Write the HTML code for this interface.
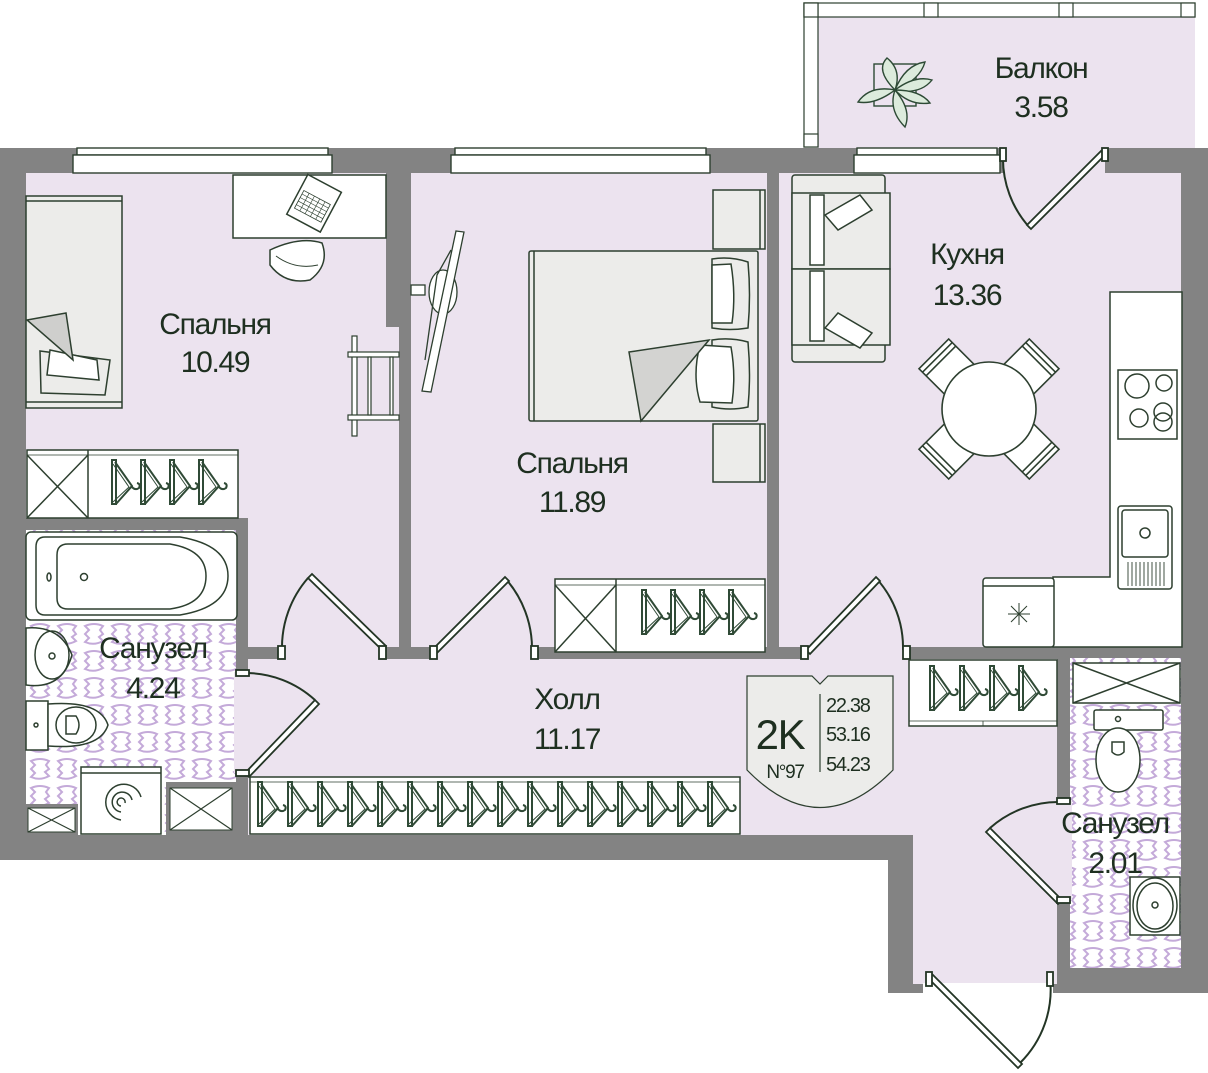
<!DOCTYPE html>
<html><head><meta charset="utf-8"><style>
html,body{margin:0;padding:0;background:#fff;}
svg{display:block;}
.t{font-family:"Liberation Sans",sans-serif;fill:#1e2f20;letter-spacing:-1.3px;}
</style></head><body>
<svg width="1208" height="1073" viewBox="0 0 1208 1073" xmlns="http://www.w3.org/2000/svg">
<defs>
<pattern id="tile" width="27" height="27" patternUnits="userSpaceOnUse">
<rect width="27" height="27" fill="#fff"/>
<path d="M4,5 Q13,1 22,5 L19,9 L22,13 L18,16 L22,20 Q13,25 4,21 L8,17 L4,13 L8,9 Z" fill="none" stroke="#c4aad9" stroke-width="2"/>
</pattern>
<g id="hg" fill="none" stroke="#2f4a36" stroke-width="2">
<path d="M0,0 L4,0 L4,44 L0,44 Z"/>
<path d="M3,2 L20,26 L4,44"/>
<path d="M1,4 L17,27 L1,42" stroke-width="1"/>
<path d="M19,26 Q23,31 27,28 Q29,24 25,23"/>
</g>
<g id="chair" stroke="#2d3f2f" stroke-width="1.6" fill="#fff">
<rect x="28" y="-21" width="50" height="42"/>
<line x1="68" y1="-21" x2="68" y2="21"/><line x1="73" y1="-21" x2="73" y2="21"/>
</g>
</defs>

<!-- balcony -->
<rect x="818" y="17" width="377" height="131" fill="#ece3ef"/>
<rect x="804" y="3" width="391" height="14" fill="#fff" stroke="#2d3f2f" stroke-width="1.2"/>
<rect x="804" y="3" width="14" height="144" fill="#fff" stroke="#2d3f2f" stroke-width="1.2"/>
<rect x="804" y="3" width="14" height="14" fill="#fff" stroke="#2d3f2f" stroke-width="1.2"/>
<rect x="804" y="134" width="14" height="13" fill="#fff" stroke="#2d3f2f" stroke-width="1.2"/>
<rect x="924" y="3" width="14" height="14" fill="#fff" stroke="#2d3f2f" stroke-width="1.2"/>
<rect x="1059" y="3" width="14" height="14" fill="#fff" stroke="#2d3f2f" stroke-width="1.2"/>
<rect x="1181" y="3" width="14" height="14" fill="#fff" stroke="#2d3f2f" stroke-width="1.2"/>

<!-- walls base -->
<rect x="0" y="148" width="1208" height="712" fill="#838383"/>
<rect x="888" y="835" width="35" height="158" fill="#838383"/>
<rect x="1053" y="650" width="155" height="343" fill="#838383"/>

<!-- rooms -->
<rect x="26" y="173" width="360" height="345" fill="#ece3ef"/>
<rect x="386" y="327" width="13" height="191" fill="#ece3ef"/>
<rect x="248" y="517" width="151" height="130" fill="#ece3ef"/>
<rect x="411" y="173" width="356" height="474" fill="#ece3ef"/>
<rect x="779" y="173" width="402" height="474" fill="#ece3ef"/>
<rect x="26" y="530" width="210" height="305" fill="url(#tile)"/>
<rect x="248" y="659" width="809" height="176" fill="#ece3ef"/>
<rect x="913" y="659" width="144" height="325" fill="#ece3ef"/>
<rect x="1070" y="658" width="111" height="310" fill="url(#tile)"/>
<!-- door gaps -->
<rect x="280" y="645" width="102" height="16" fill="#ece3ef"/>
<rect x="432" y="645" width="104" height="16" fill="#ece3ef"/>
<rect x="803" y="645" width="102" height="16" fill="#ece3ef"/>
<rect x="234" y="672" width="16" height="101" fill="#ece3ef"/>
<rect x="1053" y="800" width="19" height="100" fill="#ece3ef"/>
<rect x="1003" y="146" width="102" height="29" fill="#ece3ef"/>
<rect x="923" y="968" width="130" height="30" fill="#fff"/>
<rect x="923" y="968" width="130" height="15" fill="#ece3ef"/>

<!-- windows -->
<g fill="#fff" stroke="#2d3f2f" stroke-width="1.4">
<rect x="77" y="148" width="251" height="7"/><rect x="73" y="155" width="259" height="18"/>
<rect x="455" y="148" width="251" height="7"/><rect x="451" y="155" width="259" height="18"/>
<rect x="857" y="148" width="140" height="7"/><rect x="854" y="155" width="146" height="18"/>
</g>

<!-- doors -->
<g fill="none" stroke="#233525" stroke-width="2">
<path d="M308,578 A106,106 0 0 0 282,650"/>
<path d="M505,578 A106,106 0 0 1 532,650"/>
<path d="M876,578 A103,103 0 0 1 903,650"/>
<path d="M315,700 A103,103 0 0 0 245,673"/>
<path d="M1030,228 A103,103 0 0 1 1003,156"/>
<path d="M990,828 A103,103 0 0 1 1060,802"/>
<path d="M1020,1063 A103,103 0 0 0 1050,978"/>
</g>
<g fill="#fff" stroke="#233525" stroke-width="1.8">
<polygon points="382,650 386,646 312,574 308,578"/>
<polygon points="432,650 436,654 509,581 505,577"/>
<polygon points="806,650 810,654 880,581 876,577"/>
<polygon points="245,773 249,777 319,704 315,700"/>
<polygon points="1105,155 1101,151 1027,225 1031,229"/>
<polygon points="1062,900 1058,904 986,832 990,828"/>
<polygon points="928,978 932,974 1022,1064 1018,1068"/>
<rect x="278" y="646" width="7" height="13"/><rect x="379" y="646" width="7" height="13"/>
<rect x="430" y="646" width="7" height="13"/><rect x="531" y="646" width="7" height="13"/>
<rect x="801" y="646" width="7" height="13"/><rect x="903" y="646" width="7" height="13"/>
<rect x="236" y="670" width="13" height="6"/><rect x="236" y="770" width="13" height="6"/>
<rect x="1057" y="798" width="13" height="6"/><rect x="1057" y="897" width="13" height="6"/>
<rect x="1000" y="148" width="6" height="13"/><rect x="1102" y="148" width="6" height="13"/>
<rect x="926" y="972" width="6" height="14"/><rect x="1047" y="972" width="6" height="14"/>
</g>

<!-- Bedroom1 furniture -->
<g stroke="#2d3f2f" stroke-width="1.5">
<rect x="26" y="196" width="96" height="212" fill="#ececea"/>
<line x1="26" y1="201" x2="122" y2="201"/><line x1="26" y1="402" x2="122" y2="402"/>
<path d="M40,351 L110,360 L105,395 L41,393 Z" fill="#ececea"/>
<path d="M50,350 L97,360 L99,380 L47,375 Z" fill="#fff"/>
<polygon points="27,320 66,313 73,360" fill="#cfcfcd"/>
<rect x="233" y="175" width="153" height="63" fill="#fff"/>
<g transform="rotate(28 312 205)"><rect x="294" y="180" width="38" height="45" fill="#fff"/><rect x="298" y="196" width="30" height="20" fill="#fff" stroke-width="0.8"/><path d="M298,200 H328 M298,204 H328 M298,208 H328 M298,212 H328 M304,196 V216 M310,196 V216 M316,196 V216 M322,196 V216" stroke-width="0.6"/></g>
<path d="M270,250 Q300,236 322,243 Q330,265 310,280 Q285,285 270,265 Z" fill="#fff"/>
<path d="M276,256 Q295,270 318,265" fill="none" stroke-width="1"/>
<rect x="27" y="450" width="211" height="68" fill="#fff"/>
<line x1="88" y1="450" x2="88" y2="518"/><line x1="27" y1="455" x2="238" y2="455" stroke-width="0.8"/>
<line x1="27" y1="455" x2="88" y2="518"/><line x1="88" y1="455" x2="27" y2="518"/>
<g fill="#fff" stroke-width="1.2"><rect x="352" y="336" width="5" height="100"/><rect x="348" y="352" width="51" height="5"/><rect x="348" y="415" width="51" height="5"/><rect x="368" y="357" width="3" height="58"/><rect x="390" y="357" width="3" height="58"/></g>
<g fill="#fff" stroke-width="1.3"><rect x="411" y="285" width="14" height="10"/><ellipse cx="443" cy="292" rx="14" ry="22"/><polygon points="456,231 464,232 431,392 422,391"/><path d="M451,250 L437,275 L425,360" fill="none"/></g>
</g>

<!-- Bath1 -->
<g stroke="#2d3f2f" stroke-width="1.5" fill="#fff">
<rect x="26" y="532" width="211" height="88" rx="5"/>
<path d="M45,537 H180 Q228,545 228,576 Q228,607 180,615 H45 Q36,615 36,605 V547 Q36,537 45,537 Z" fill="none"/>
<path d="M68,544 H170 Q206,550 206,576 Q206,604 170,609 H68 Q57,609 57,598 V555 Q57,544 68,544 Z" fill="none"/>
<ellipse cx="49" cy="577" rx="2" ry="4"/><circle cx="84" cy="577" r="3.5"/>
<path d="M26,628 Q60,625 72,655 Q62,690 26,685 Z"/>
<ellipse cx="52" cy="655" rx="17" ry="24" fill="none"/><circle cx="52" cy="656" r="3"/>
<rect x="26" y="701" width="22" height="49"/>
<path d="M48,704 Q100,700 108,725 Q100,750 48,746 Z"/>
<ellipse cx="76" cy="725" rx="20" ry="18" fill="none"/><path d="M66,716 H76 Q82,725 76,734 H66 Z" fill="none"/>
<circle cx="36" cy="725" r="2"/>
<rect x="81" y="767" width="80" height="67"/><line x1="81" y1="773" x2="161" y2="773"/>
<path d="M121,820 A18,18 0 1 1 141,797 M121,812 A10,10 0 1 1 132,800 M121,806 A4,4 0 1 1 125,803" fill="none"/>
</g>
<rect x="166" y="782" width="70" height="53" fill="#838383"/>
<rect x="170" y="788" width="62" height="42" fill="#fff" stroke="#2d3f2f" stroke-width="1"/>
<path d="M170,788 L232,830 M232,788 L170,830" stroke="#2d3f2f" stroke-width="1.2"/>
<rect x="26" y="804" width="52" height="31" fill="#838383"/>
<rect x="28" y="808" width="47" height="24" fill="#fff" stroke="#2d3f2f" stroke-width="1"/>
<path d="M28,808 L75,832 M75,808 L28,832" stroke="#2d3f2f" stroke-width="1.2"/>

<!-- Bedroom2 -->
<g stroke="#2d3f2f" stroke-width="1.5">
<rect x="713" y="190" width="52" height="59" fill="#ececea"/><rect x="713" y="424" width="52" height="58" fill="#ececea"/>
<line x1="760" y1="190" x2="760" y2="249"/><line x1="760" y1="424" x2="760" y2="482"/>
<rect x="529" y="251" width="229" height="170" fill="#ececea" rx="2"/>
<line x1="534" y1="251" x2="534" y2="421"/>
<path d="M712,259 Q730,256 748,262 Q751,295 748,328 Q730,331 712,328 Z" fill="#ececea"/>
<path d="M712,265 L731,264 Q736,295 732,323 L712,323 Z" fill="#fff"/>
<path d="M712,340 Q730,337 748,342 Q751,375 748,407 Q730,411 712,407 Z" fill="#ececea"/>
<path d="M700,345 L731,347 Q736,375 732,403 L700,402 Q692,375 700,345 Z" fill="#fff"/>
<polygon points="629,352 709,340 641,421" fill="#d3d3d1"/>
<rect x="555" y="579" width="210" height="73" fill="#fff"/>
<line x1="616" y1="579" x2="616" y2="652"/><line x1="555" y1="585" x2="765" y2="585" stroke-width="0.8"/>
<line x1="555" y1="585" x2="616" y2="652"/><line x1="616" y1="585" x2="555" y2="652"/>
</g>

<!-- Kitchen -->
<g stroke="#2d3f2f" stroke-width="1.5">
<rect x="792" y="175" width="93" height="187" fill="#ececea" rx="3"/>
<rect x="792" y="193" width="98" height="76" fill="#ececea"/><rect x="792" y="269" width="98" height="76" fill="#ececea"/>
<rect x="810" y="195" width="14" height="70" fill="#fff"/><rect x="810" y="271" width="14" height="70" fill="#fff"/>
<path d="M825,215 L860,195 L872,210 L838,230 Z" fill="#fff"/>
<path d="M825,328 L860,348 L872,333 L838,313 Z" fill="#fff"/>
<path d="M1110,292 H1182 V647 H1053 V577 H1110 Z" fill="#fff"/>
<rect x="1118" y="370" width="59" height="69" fill="#fff"/>
<circle cx="1137" cy="386" r="12" fill="none"/><circle cx="1164" cy="383" r="8" fill="none"/>
<circle cx="1139" cy="418" r="9" fill="none"/><circle cx="1163" cy="412" r="9" fill="none"/><circle cx="1163" cy="422" r="9" fill="none"/>
<rect x="1118" y="506" width="54" height="83" rx="3" fill="#fff"/><rect x="1122" y="510" width="46" height="47" rx="3" fill="none"/>
<circle cx="1145" cy="533" r="5" fill="none"/>
<path d="M1128,562 V586 M1132,562 V586 M1136,562 V586 M1140,562 V586 M1144,562 V586 M1148,562 V586 M1152,562 V586 M1156,562 V586 M1160,562 V586 M1164,562 V586" stroke-width="0.9"/>
<rect x="983" y="578" width="71" height="69" rx="3" fill="#fff"/><line x1="983" y1="586" x2="1054" y2="586"/>
<path d="M1019,603 V625 M1008,614 H1030 M1011,606 L1027,622 M1027,606 L1011,622" stroke-width="1"/>
</g>
<g transform="translate(989 409)">
<use href="#chair" transform="rotate(-135)"/><use href="#chair" transform="rotate(-45)"/>
<use href="#chair" transform="rotate(45)"/><use href="#chair" transform="rotate(135)"/>
<circle r="47" fill="#fff" stroke="#2d3f2f" stroke-width="1.6"/>
</g>

<!-- closets with hangers -->
<g stroke="#2d3f2f" stroke-width="1.5" fill="#fff">
<rect x="250" y="777" width="490" height="57"/><line x1="250" y1="782" x2="740" y2="782" stroke-width="0.8"/>
<rect x="909" y="660" width="148" height="66"/><line x1="909" y1="721" x2="1057" y2="721" stroke-width="0.8"/><line x1="983" y1="721" x2="983" y2="726" stroke-width="0.8"/>
<rect x="1073" y="663" width="107" height="40"/>
<path d="M1073,663 L1180,703 M1180,663 L1073,703"/>
<rect x="1094" y="710" width="69" height="20" rx="2"/>
<ellipse cx="1118" cy="760" rx="22" ry="32"/><path d="M1112,742 H1124 V752 Q1118,758 1112,752 Z" fill="none"/><circle cx="1118" cy="719" r="2.5"/>
<rect x="1130" y="877" width="50" height="58"/>
<ellipse cx="1155" cy="905" rx="22" ry="27" fill="none"/><ellipse cx="1155" cy="906" rx="18" ry="23" fill="none"/><circle cx="1155" cy="905" r="3"/>
</g>
<g>
<use href="#hg" x="112" y="460"/><use href="#hg" x="141" y="460"/><use href="#hg" x="170" y="460"/><use href="#hg" x="199" y="460"/>
<use href="#hg" x="642" y="590"/><use href="#hg" x="671" y="590"/><use href="#hg" x="700" y="590"/><use href="#hg" x="729" y="590"/>
<use href="#hg" x="930" y="666"/><use href="#hg" x="960" y="666"/><use href="#hg" x="990" y="666"/><use href="#hg" x="1019" y="666"/>
<use href="#hg" x="258" y="782"/><use href="#hg" x="288" y="782"/><use href="#hg" x="318" y="782"/><use href="#hg" x="348" y="782"/>
<use href="#hg" x="378" y="782"/><use href="#hg" x="408" y="782"/><use href="#hg" x="438" y="782"/><use href="#hg" x="468" y="782"/>
<use href="#hg" x="498" y="782"/><use href="#hg" x="528" y="782"/><use href="#hg" x="558" y="782"/><use href="#hg" x="588" y="782"/>
<use href="#hg" x="618" y="782"/><use href="#hg" x="648" y="782"/><use href="#hg" x="678" y="782"/><use href="#hg" x="708" y="782"/>
</g>

<!-- plant -->
<g stroke="#2d4a35" stroke-width="1.4" fill="#dcebdc">
<rect x="874" y="64" width="42" height="42" fill="none"/>
<path d="M895,90 Q875,70 887,58 Q902,70 895,90 Z"/>
<path d="M895,90 Q905,65 925,62 Q920,80 895,90 Z"/>
<path d="M895,90 Q915,75 932,80 Q920,95 895,90 Z"/>
<path d="M895,90 Q920,90 930,103 Q910,106 895,90 Z"/>
<path d="M895,90 Q912,110 905,127 Q888,110 895,90 Z"/>
<path d="M895,90 Q875,105 858,102 Q870,85 895,90 Z"/>
</g>

<!-- badge -->
<path d="M747,676 H812 L820,684 L828,676 H893 V770 Q820,845 747,770 Z" fill="#ececea" stroke="#2d3f2f" stroke-width="1.2"/>
<line x1="820" y1="694" x2="820" y2="772" stroke="#2d3f2f" stroke-width="1.2"/>
<text class="t" x="780" y="749" font-size="42" text-anchor="middle">2K</text>
<text class="t" x="785" y="778" font-size="19" text-anchor="middle">N°97</text>
<text class="t" x="826" y="712" font-size="20">22.38</text>
<text class="t" x="826" y="741" font-size="20">53.16</text>
<text class="t" x="826" y="771" font-size="20">54.23</text>

<!-- labels -->
<g class="t" font-size="30" text-anchor="middle">
<text x="215" y="334">Спальня</text><text x="215" y="372">10.49</text>
<text x="572" y="473">Спальня</text><text x="572" y="512">11.89</text>
<text x="967" y="264">Кухня</text><text x="967" y="305">13.36</text>
<text x="1041" y="78">Балкон</text><text x="1041" y="117">3.58</text>
<text x="153" y="658">Санузел</text><text x="153" y="698">4.24</text>
<text x="567" y="709">Холл</text><text x="567" y="749">11.17</text>
<text x="1115" y="833">Санузел</text><text x="1115" y="873">2.01</text>
</g>
</svg>
</body></html>
